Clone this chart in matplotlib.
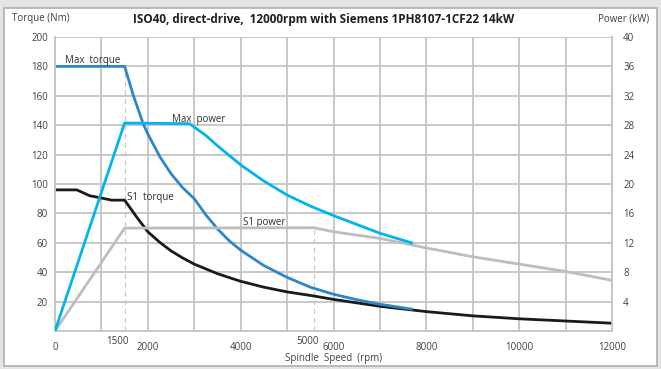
import matplotlib
matplotlib.use("Agg")
import matplotlib.pyplot as plt
from matplotlib.patches import Rectangle

# speeds in rpm, torque in Nm, power in kW
max_torque_rpm = [0, 1500, 1690, 1900, 2000, 2260, 2500, 2750, 3000, 3250, 3500, 3750,
                  4000, 4500, 5000, 5500, 6000, 6500, 7000, 7680]
max_torque_nm = [180, 180, 160, 141, 134, 118.5, 107, 97.5, 90, 79, 69.5, 61.5,
                 55, 44.5, 36.5, 29.8, 25, 21.3, 18.2, 14.9]

max_power_rpm = [0, 1500, 2900, 3250, 3500, 4000, 4500, 5000, 5500, 6000, 6500, 7000, 7680]
max_power_kw = [0, 28.3, 28.2, 26.6, 25.2, 22.6, 20.4, 18.5, 17.0, 15.7, 14.5, 13.3, 12.0]

s1_torque_rpm = [0, 470, 750, 1000, 1220, 1500, 1760, 2000, 2250, 2500, 2750, 3000, 3500,
                 4000, 4500, 5000, 5580, 6000, 7000, 8000, 9000, 10000, 11000, 12000]
s1_torque_nm = [96, 96, 92, 90.5, 89, 89, 77.5, 67.5, 60.5, 54.5, 49.7, 45.5, 39,
                33.8, 29.8, 26.6, 23.8, 21.5, 16.8, 13.2, 10.3, 8.3, 6.8, 5.3]

s1_power_rpm = [0, 1500, 5580, 6000, 7000, 8000, 9000, 10000, 11000, 12000]
s1_power_kw = [0, 14, 14.05, 13.5, 12.6, 11.3, 10.1, 9.1, 8.1, 6.9]

x_labels = [0, 2000, 4000, 6000, 8000, 10000, 12000]
x_extra_labels = [(1350, "1500"), (5450, "5000")]
torque_ticks = list(range(20, 201, 20))
power_ticks = list(range(4, 41, 4))

corner_rpm = 1500
s1_corner_rpm = 5580

plt.rcParams['font.family'] = ['Open Sans', 'DejaVu Sans']
text_col = '#404040'
grid_col = '#c4c4c4'

fig = plt.figure(figsize=(6.61, 3.69), dpi=100)
fig.patch.set_facecolor('#e4e4e4')
fig.patches.append(Rectangle((4 / 661, 3 / 369), 653 / 661, 358 / 369,
                             transform=fig.transFigure, facecolor='white',
                             edgecolor='#b0b0b0', linewidth=1.2, zorder=-5))

ax = fig.add_axes([55 / 661, 38 / 369, 557 / 661, 294 / 369])
ax.patch.set_alpha(0)
ax.set_xlim(0, 12000)
ax.set_ylim(0, 200)
ax.set_xticks(x_labels)
ax.set_xticks(range(1000, 12000, 2000), minor=True)
ax.set_yticks(torque_ticks)
ax.set_xticklabels([str(v) for v in x_labels])
ax.grid(True, which='both', color=grid_col, linewidth=1.3)
ax.set_axisbelow(True)
ax.tick_params(which='both', length=0, labelsize=7, colors=text_col, pad=5)
ax.tick_params(axis='x', pad=8)
for s in ax.spines.values():
    s.set_color(grid_col)
    s.set_linewidth(1.3)
ax.spines['top'].set_visible(False)

for rpm, lab in x_extra_labels:
    ax.text(rpm, -3.5, lab, ha='center', va='top', fontsize=7, color=text_col)

ax.vlines(corner_rpm, 0, 180, colors='#c8c8c8', linestyles=(0, (4, 3)), linewidth=0.9)
ax.vlines(s1_corner_rpm, 0, 70, colors='#c8c8c8', linestyles=(0, (4, 3)), linewidth=0.9)

ax.plot(s1_torque_rpm, s1_torque_nm, color='#1a1a1a', linewidth=2.0)
ax.plot(max_torque_rpm, max_torque_nm, color='#2e86c8', linewidth=2.0)

ax2 = ax.twinx()
ax2.set_ylim(0, 40)
ax2.set_yticks(power_ticks)
ax2.tick_params(length=0, labelsize=7, colors=text_col, pad=8)
for s in ax2.spines.values():
    s.set_visible(False)
ax2.plot(s1_power_rpm, s1_power_kw, color='#bdbdbd', linewidth=2.0)
ax2.plot(max_power_rpm, max_power_kw, color='#00b4ee', linewidth=2.0)

ax.text(215, 182, 'Max  torque', fontsize=7, color='#303030')
ax.text(2520, 142, 'Max  power', fontsize=7, color='#303030')
ax.text(1550, 89, 'S1  torque', fontsize=7, color='#303030')
ax.text(4050, 72, 'S1 power', fontsize=7, color='#303030')

ax.set_xlabel('Spindle  Speed  (rpm)', fontsize=7, color=text_col, labelpad=0)
fig.text(12 / 661, 1 - 19 / 369, 'Torque (Nm)', fontsize=7, color=text_col, va='center')
fig.text(649 / 661, 1 - 19 / 369, 'Power (kW)', fontsize=7, color=text_col, va='center', ha='right')
fig.text(324 / 661, 1 - 19 / 369, 'ISO40, direct-drive,  12000rpm with Siemens 1PH8107-1CF22 14kW',
         fontsize=8.5, fontweight='bold', color='#202020', ha='center', va='center')

fig.savefig('out.png', dpi=100, facecolor=fig.get_facecolor())
